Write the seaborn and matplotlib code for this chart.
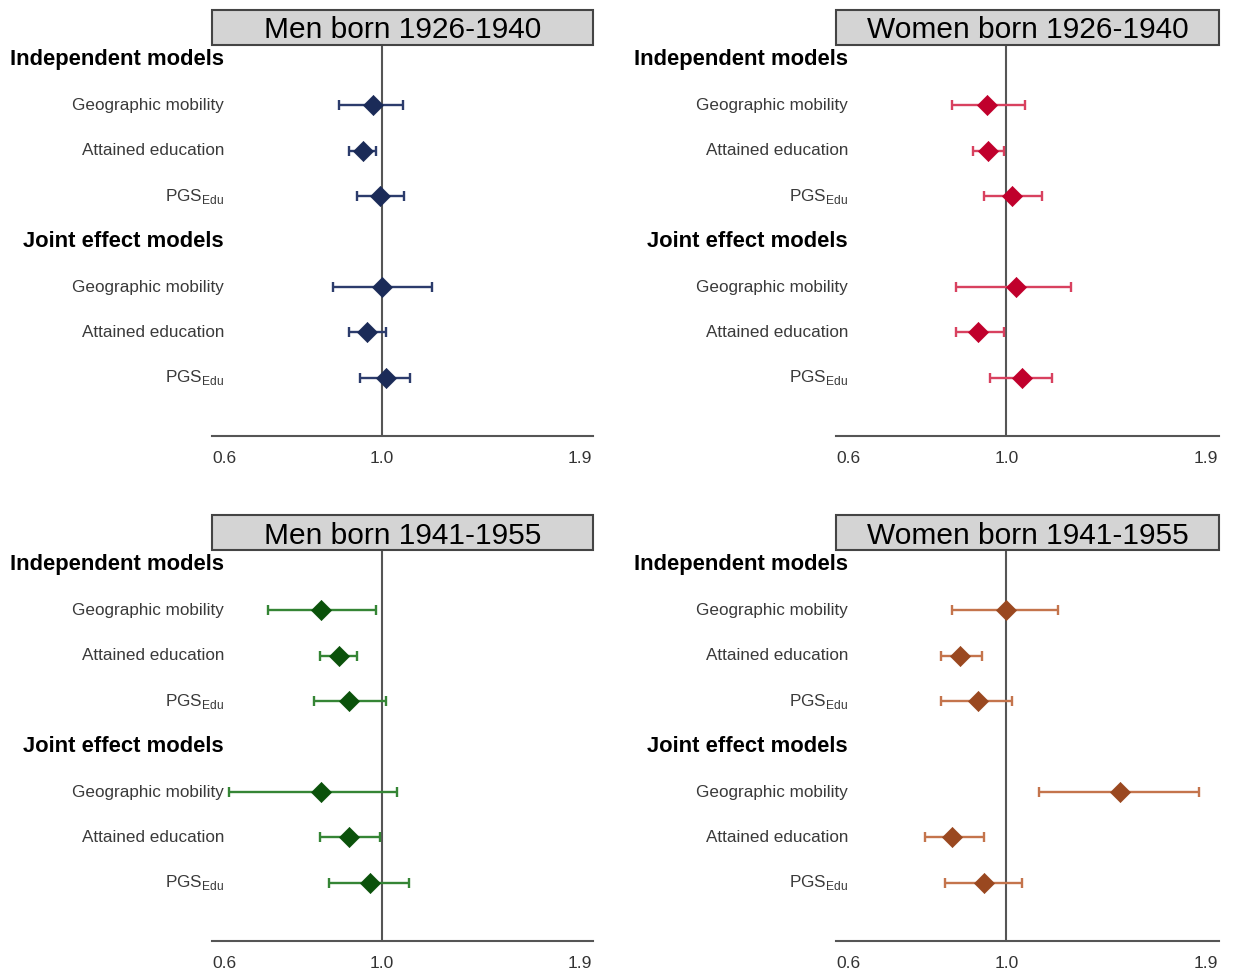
import matplotlib
matplotlib.use("Agg")
import matplotlib.pyplot as plt
import matplotlib.transforms as mtransforms
from matplotlib.patches import Rectangle
import pandas as pd
import seaborn as sns

# panel titles
panels = [
    "Men born 1926-1940",
    "Women born 1926-1940",
    "Men born 1941-1955",
    "Women born 1941-1955",
]
models = ["Independent models", "Joint effect models"]
terms = ["Geographic mobility", "Attained education", "PGS$_{\\mathrm{Edu}}$"]

# odds ratios and 95% CI, order: independent (geo, edu, pgs), joint (geo, edu, pgs)
or_men_1926 = [0.971, 0.943, 0.995, 1.002, 0.955, 1.014]
lo_men_1926 = [0.871, 0.900, 0.924, 0.853, 0.900, 0.933]
hi_men_1926 = [1.073, 0.982, 1.075, 1.176, 1.014, 1.096]

or_women_1926 = [0.939, 0.941, 1.019, 1.032, 0.912, 1.052]
lo_women_1926 = [0.838, 0.899, 0.930, 0.849, 0.849, 0.948]
hi_women_1926 = [1.062, 0.991, 1.120, 1.231, 0.991, 1.160]

or_men_1941 = [0.822, 0.871, 0.901, 0.822, 0.901, 0.962]
lo_men_1941 = [0.692, 0.820, 0.802, 0.610, 0.820, 0.842]
hi_men_1941 = [0.981, 0.923, 1.013, 1.052, 0.994, 1.094]

or_women_1941 = [1.000, 0.862, 0.912, 1.442, 0.840, 0.931]
lo_women_1941 = [0.838, 0.809, 0.809, 1.110, 0.770, 0.819]
hi_women_1941 = [1.181, 0.924, 1.019, 1.860, 0.931, 1.052]

x_ticks = [0.6, 1.0, 1.9]

marker_colors = ["#1b2b58", "#c0002c", "#0b520b", "#9a4820"]
line_colors = ["#2c3c6c", "#d8415f", "#358535", "#c4744c"]

rows = []
estimates = [
    (or_men_1926, lo_men_1926, hi_men_1926),
    (or_women_1926, lo_women_1926, hi_women_1926),
    (or_men_1941, lo_men_1941, hi_men_1941),
    (or_women_1941, lo_women_1941, hi_women_1941),
]
for p, (est, lo, hi) in zip(panels, estimates):
    for i in range(6):
        m = i // 3
        rows.append(
            {
                "panel": p,
                "model": models[m],
                "term": terms[i % 3],
                "pos": m * 4 + (i % 3) + 1,
                "or": est[i],
                "lo": lo[i],
                "hi": hi[i],
            }
        )
df = pd.DataFrame(rows)

sns.set_style("white")
plt.rcParams["font.family"] = ["Liberation Sans", "DejaVu Sans"]
plt.rcParams["mathtext.fontset"] = "custom"
plt.rcParams["mathtext.rm"] = "Liberation Sans"

W, H = 1233, 977
fig = plt.figure(figsize=(W / 100, H / 100), dpi=100)

# pixel boxes: (left, right, top, bottom) of the plotting area
boxes = [
    (212, 593, 45, 436),
    (836, 1219, 45, 436),
    (212, 593, 550, 941),
    (836, 1219, 550, 941),
]

for k, p in enumerate(panels):
    l, r, t, b = boxes[k]
    ax = fig.add_axes([l / W, 1 - b / H, (r - l) / W, (b - t) / H])
    sub = df[df["panel"] == p]

    ax.axvline(1.0, color="#555555", lw=1.5, zorder=1)
    ax.errorbar(
        sub["or"],
        sub["pos"],
        xerr=[sub["or"] - sub["lo"], sub["hi"] - sub["or"]],
        fmt="none",
        ecolor=line_colors[k],
        elinewidth=1.7,
        capsize=3.5,
        capthick=1.7,
        zorder=2,
    )
    sns.scatterplot(
        data=sub,
        x="or",
        y="pos",
        marker="D",
        s=105,
        color=marker_colors[k],
        edgecolor=marker_colors[k],
        linewidth=0.5,
        legend=False,
        ax=ax,
        zorder=3,
    )

    ax.set_xscale("log")
    ax.set_xlim(0.577, 1.985)
    ax.set_ylim(8.28, -0.33)
    ax.set_xticks(x_ticks)
    ax.set_xticklabels([f"{v:.1f}" for v in x_ticks])
    ax.xaxis.set_minor_locator(matplotlib.ticker.NullLocator())
    ax.set_yticks([])
    ax.set_xlabel("")
    ax.set_ylabel("")
    for side in ["top", "left", "right"]:
        ax.spines[side].set_visible(False)
    ax.spines["bottom"].set_color("#555555")
    ax.spines["bottom"].set_linewidth(1.5)
    ax.tick_params(axis="x", direction="out", length=5, width=1.2,
                   color="#555555", labelsize=12.5, labelcolor="#333333", pad=6)

    # row labels, right aligned a little inside the axes
    trans = mtransforms.blended_transform_factory(ax.transAxes, ax.transData)
    lab_x = 12 / (r - l)
    for m, name in enumerate(models):
        ax.text(lab_x, m * 4, name, transform=trans, ha="right", va="center",
                fontsize=15.8, fontweight="bold", color="black")
    for _, row in sub.iterrows():
        ax.text(lab_x, row["pos"], row["term"], transform=trans, ha="right",
                va="center", fontsize=12.3, color="#3a3a3a")

    # title box above the plotting area
    h_box = 35 / (b - t)
    ax.add_patch(Rectangle((0, 1.0), 1.0, h_box, transform=ax.transAxes,
                           facecolor="#d4d4d4", edgecolor="#444444", lw=1.5,
                           clip_on=False, zorder=4))
    ax.text(0.5, 1.0 + h_box / 2, p, transform=ax.transAxes, ha="center",
            va="center_baseline", fontsize=21.5, color="black", zorder=5)

fig.savefig("out.png", dpi=100)
